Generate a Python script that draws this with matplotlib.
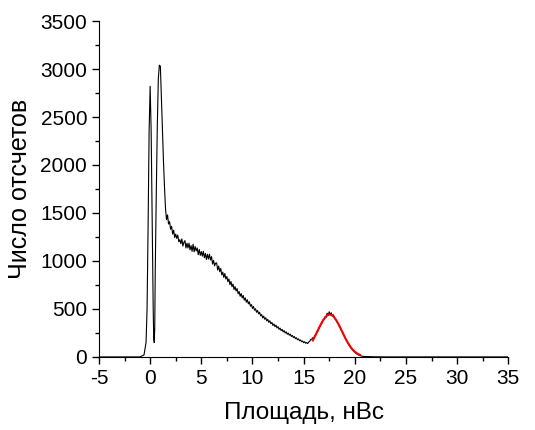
import matplotlib
matplotlib.use("Agg")
import matplotlib.pyplot as plt
from matplotlib.ticker import MultipleLocator

plt.rcParams['font.family'] = ['Liberation Sans', 'DejaVu Sans']
plt.rcParams['axes.unicode_minus'] = False

# main peaks (pedestal + first photoelectron region)
peak_x = [-5.0, -1.0, -0.6, -0.4, -0.3, -0.2, -0.1, 0.0, 0.1, 0.2, 0.3, 0.35, 0.4,
          0.45, 0.5, 0.6, 0.7, 0.8, 0.9, 1.0, 1.1, 1.2, 1.3, 1.4, 1.5, 1.6]
peak_y = [0, 0, 20, 150, 500, 1350, 2350, 2820, 2350, 1400, 500, 200, 150,
          300, 900, 1700, 2400, 2900, 3040, 3030, 2700, 2350, 2050, 1780, 1550, 1430]

# noisy continuum, 0.1 nVs bins from 1.7 to 20.6
cont_start, cont_step = 1.7, 0.1
cont_y = [1480, 1385, 1410, 1330, 1360, 1280, 1320, 1245, 1280, 1235,
          1270, 1200, 1222, 1180, 1230, 1155, 1193, 1212, 1135, 1185,
          1135, 1185, 1116, 1160, 1100, 1175, 1095, 1150, 1105, 1135,
          1065, 1120, 1058, 1098, 1050, 1100, 1034, 1078, 1015, 1070,
          1020, 1070, 1010, 1045, 968, 1006, 949, 977, 980, 906,
          947, 888, 922, 855, 883, 828, 869, 812, 838, 784,
          812, 753, 786, 732, 758, 702, 732, 687, 712, 658,
          681, 632, 660, 615, 640, 592, 615, 570, 596, 553,
          574, 528, 546, 505, 526, 486, 502, 465, 484, 448,
          465, 427, 442, 406, 425, 392, 408, 375, 391, 360,
          376, 346, 359, 328, 343, 315, 331, 302, 315, 287,
          300, 274, 287, 261, 274, 249, 261, 236, 249, 226,
          237, 213, 224, 202, 212, 190, 200, 179, 188, 168,
          177, 158, 166, 148, 158, 142, 150, 139, 155, 163,
          183, 185,
          200, 195, 225, 230, 262, 270, 305, 318, 345, 352,
          385, 390, 420, 412, 455, 430, 470, 440, 460, 425,
          440, 415, 390, 385, 355, 345, 315, 305, 270, 260,
          225, 215, 185, 170, 145, 130, 110, 98, 82, 70,
          58, 48, 38, 30, 24, 18, 14, 10]

tail_x = [20.8, 21.0, 21.5, 22.0, 23.0, 35.0]
tail_y = [6, 4, 2, 1, 0, 0]

# gaussian fit of the single-photoelectron peak
fit_x = [15.9, 16.0, 16.1, 16.2, 16.3, 16.4, 16.5, 16.6, 16.7, 16.8, 16.9,
         17.0, 17.1, 17.2, 17.3, 17.4, 17.5, 17.6, 17.7, 17.8, 17.9,
         18.0, 18.1, 18.2, 18.3, 18.4, 18.5, 18.6, 18.7, 18.8, 18.9,
         19.0, 19.1, 19.2, 19.3, 19.4, 19.5, 19.6, 19.7, 19.8, 19.9,
         20.0, 20.1, 20.2, 20.3, 20.4, 20.5]
fit_y = [171, 191, 212, 234, 256, 278, 300, 322, 342, 362, 380,
         396, 410, 422, 431, 437, 440, 440, 437, 431, 422,
         410, 396, 380, 362, 342, 322, 300, 278, 256, 234,
         212, 191, 171, 152, 134, 118, 102, 88, 76, 65,
         55, 46, 38, 32, 26, 21]

cont_x = [round(cont_start + i * cont_step, 2) for i in range(len(cont_y))]
xs = peak_x + cont_x + tail_x
ys = peak_y + cont_y + tail_y

fig = plt.figure(figsize=(5.35, 4.3), dpi=100)
ax = fig.add_axes([0.185, 0.170, 0.765, 0.781])

ax.plot(xs, ys, color='black', linewidth=0.8)
ax.plot(fit_x, fit_y, color='red', linewidth=1.5)

ax.set_xlim(-5, 35)
ax.set_ylim(0, 3500)
ax.xaxis.set_major_locator(MultipleLocator(5))
ax.xaxis.set_minor_locator(MultipleLocator(2.5))
ax.yaxis.set_major_locator(MultipleLocator(500))
ax.yaxis.set_minor_locator(MultipleLocator(250))
ax.tick_params(which='major', direction='out', length=5, width=1, labelsize=15)
ax.tick_params(which='minor', direction='out', length=3, width=1)

ax.spines['top'].set_visible(False)
ax.spines['right'].set_visible(False)

ax.set_xlabel('Площадь, нВс', fontsize=17.5, labelpad=10)
ax.set_ylabel('Число отсчетов', fontsize=18, labelpad=6)

fig.savefig('out.png', dpi=100)
